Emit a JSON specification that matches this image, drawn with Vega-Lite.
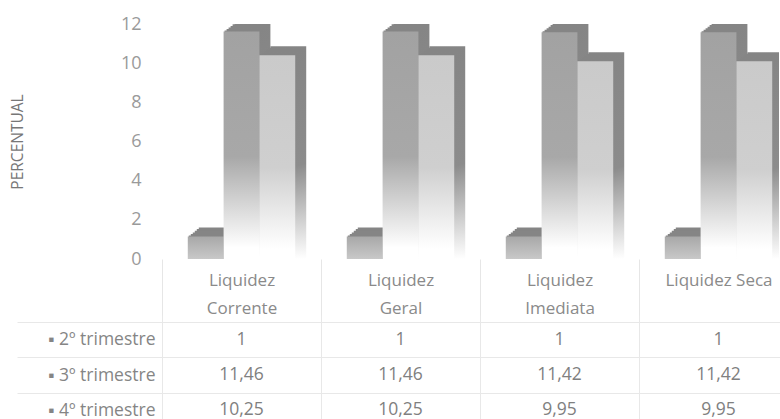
{
"$schema":"https://vega.github.io/schema/vega-lite/v6.json",
"padding":{"left":10,"top":15,"right":0,"bottom":0},
"background":"white",
"bounds":"flush",
"spacing":63,
"config":{"view":{"stroke":null},"font":"Open Sans"},
"datasets":{"d":[
{"cat":"Liquidez Corrente","s":"2º trimestre","v":1,"t":"1"},
{"cat":"Liquidez Corrente","s":"3º trimestre","v":11.46,"t":"11,46"},
{"cat":"Liquidez Corrente","s":"4º trimestre","v":10.25,"t":"10,25"},
{"cat":"Liquidez Geral","s":"2º trimestre","v":1,"t":"1"},
{"cat":"Liquidez Geral","s":"3º trimestre","v":11.46,"t":"11,46"},
{"cat":"Liquidez Geral","s":"4º trimestre","v":10.25,"t":"10,25"},
{"cat":"Liquidez Imediata","s":"2º trimestre","v":1,"t":"1"},
{"cat":"Liquidez Imediata","s":"3º trimestre","v":11.42,"t":"11,42"},
{"cat":"Liquidez Imediata","s":"4º trimestre","v":9.95,"t":"9,95"},
{"cat":"Liquidez Seca","s":"2º trimestre","v":1,"t":"1"},
{"cat":"Liquidez Seca","s":"3º trimestre","v":11.42,"t":"11,42"},
{"cat":"Liquidez Seca","s":"4º trimestre","v":9.95,"t":"9,95"}
]},
"vconcat":[
{"width":617,"height":235,"data":{"name":"d"},
"resolve":{"scale":{"xOffset":"independent"}},
"encoding":{
"x":{"field":"cat","type":"nominal","sort":null,"scale":{"domain":["Liquidez Corrente","Liquidez Geral","Liquidez Imediata","Liquidez Seca"],"range":[0,636],"paddingInner":0,"paddingOuter":0},
"axis":{"title":null,"labelAngle":0,"domain":false,"tickBand":"extent","tickSize":63,"tickColor":"#e6e6e6","labelPadding":-50,"labelLineHeight":28,"labelFontSize":17,"labelColor":"#8a8a8a","labelBaseline":"top","labelExpr":"datum.label=='Liquidez Seca'?datum.label:split(datum.label,' ')"}},
"y":{"field":"v","type":"quantitative","scale":{"domain":[0,12],"nice":false},
"axis":{"title":"PERCENTUAL","titleFont":"Open Sans","titleFontWeight":"normal","titleFontSize":15.5,"titleColor":"#777777","titleX":-137,"values":[0,2,4,6,8,10,12],"grid":false,"domain":false,"ticks":false,"labelPadding":21,"labelFontSize":18,"labelColor":"#9a9a9a"}},
"y2":{"datum":0}
},
"layer":[
{"transform":[{"filter":"datum.s=='2º trimestre'"}],"mark":{"type":"bar","clip":true,"yOffset":-12,"color":"#858585"},"encoding":{"xOffset":{"field":"s","type":"nominal","scale":{"domain":["2º trimestre","3º trimestre","4º trimestre"],"range":[11,170],"paddingOuter":0.72,"paddingInner":0}}}},
{"transform":[{"filter":"datum.s=='2º trimestre'"}],"mark":{"type":"bar","clip":true,"yOffset":-10.4,"color":"#858585"},"encoding":{"xOffset":{"field":"s","type":"nominal","scale":{"domain":["2º trimestre","3º trimestre","4º trimestre"],"range":[9,168],"paddingOuter":0.72,"paddingInner":0}}}},
{"transform":[{"filter":"datum.s=='2º trimestre'"}],"mark":{"type":"bar","clip":true,"yOffset":-8.7,"color":"#858585"},"encoding":{"xOffset":{"field":"s","type":"nominal","scale":{"domain":["2º trimestre","3º trimestre","4º trimestre"],"range":[7,166],"paddingOuter":0.72,"paddingInner":0}}}},
{"transform":[{"filter":"datum.s=='2º trimestre'"}],"mark":{"type":"bar","clip":true,"yOffset":-7,"color":"#858585"},"encoding":{"xOffset":{"field":"s","type":"nominal","scale":{"domain":["2º trimestre","3º trimestre","4º trimestre"],"range":[5,164],"paddingOuter":0.72,"paddingInner":0}}}},
{"transform":[{"filter":"datum.s=='2º trimestre'"}],"mark":{"type":"bar","clip":true,"yOffset":-5.5,"color":"#858585"},"encoding":{"xOffset":{"field":"s","type":"nominal","scale":{"domain":["2º trimestre","3º trimestre","4º trimestre"],"range":[3,162],"paddingOuter":0.72,"paddingInner":0}}}},
{"transform":[{"filter":"datum.s=='2º trimestre'"}],"mark":{"type":"bar","clip":true,"yOffset":-4,"color":"#858585"},"encoding":{"xOffset":{"field":"s","type":"nominal","scale":{"domain":["2º trimestre","3º trimestre","4º trimestre"],"range":[1,160],"paddingOuter":0.72,"paddingInner":0}}}},
{"transform":[{"filter":"datum.s!='2º trimestre'"}],"mark":{"type":"bar","clip":true,"yOffset":-12,"color":{"gradient":"linear","x1":0,"y1":0,"x2":0,"y2":1,"stops":[{"offset":0,"color":"#858585"},{"offset":0.55,"color":"#8c8c8c"},{"offset":1,"color":"#ffffff"}]}},"encoding":{"xOffset":{"field":"s","type":"nominal","scale":{"domain":["2º trimestre","3º trimestre","4º trimestre"],"range":[11,170],"paddingOuter":0.72,"paddingInner":0}}}},
{"transform":[{"filter":"datum.s!='2º trimestre'"}],"mark":{"type":"bar","clip":true,"yOffset":-10.4,"color":{"gradient":"linear","x1":0,"y1":0,"x2":0,"y2":1,"stops":[{"offset":0,"color":"#858585"},{"offset":0.55,"color":"#8c8c8c"},{"offset":1,"color":"#ffffff"}]}},"encoding":{"xOffset":{"field":"s","type":"nominal","scale":{"domain":["2º trimestre","3º trimestre","4º trimestre"],"range":[9,168],"paddingOuter":0.72,"paddingInner":0}}}},
{"transform":[{"filter":"datum.s!='2º trimestre'"}],"mark":{"type":"bar","clip":true,"yOffset":-8.7,"color":{"gradient":"linear","x1":0,"y1":0,"x2":0,"y2":1,"stops":[{"offset":0,"color":"#858585"},{"offset":0.55,"color":"#8c8c8c"},{"offset":1,"color":"#ffffff"}]}},"encoding":{"xOffset":{"field":"s","type":"nominal","scale":{"domain":["2º trimestre","3º trimestre","4º trimestre"],"range":[7,166],"paddingOuter":0.72,"paddingInner":0}}}},
{"transform":[{"filter":"datum.s!='2º trimestre'"}],"mark":{"type":"bar","clip":true,"yOffset":-7,"color":{"gradient":"linear","x1":0,"y1":0,"x2":0,"y2":1,"stops":[{"offset":0,"color":"#858585"},{"offset":0.55,"color":"#8c8c8c"},{"offset":1,"color":"#ffffff"}]}},"encoding":{"xOffset":{"field":"s","type":"nominal","scale":{"domain":["2º trimestre","3º trimestre","4º trimestre"],"range":[5,164],"paddingOuter":0.72,"paddingInner":0}}}},
{"transform":[{"filter":"datum.s!='2º trimestre'"}],"mark":{"type":"bar","clip":true,"yOffset":-5.5,"color":{"gradient":"linear","x1":0,"y1":0,"x2":0,"y2":1,"stops":[{"offset":0,"color":"#858585"},{"offset":0.55,"color":"#8c8c8c"},{"offset":1,"color":"#ffffff"}]}},"encoding":{"xOffset":{"field":"s","type":"nominal","scale":{"domain":["2º trimestre","3º trimestre","4º trimestre"],"range":[3,162],"paddingOuter":0.72,"paddingInner":0}}}},
{"transform":[{"filter":"datum.s!='2º trimestre'"}],"mark":{"type":"bar","clip":true,"yOffset":-4,"color":{"gradient":"linear","x1":0,"y1":0,"x2":0,"y2":1,"stops":[{"offset":0,"color":"#858585"},{"offset":0.55,"color":"#8c8c8c"},{"offset":1,"color":"#ffffff"}]}},"encoding":{"xOffset":{"field":"s","type":"nominal","scale":{"domain":["2º trimestre","3º trimestre","4º trimestre"],"range":[1,160],"paddingOuter":0.72,"paddingInner":0}}}},
{"transform":[{"filter":"datum.s=='2º trimestre'"}],"mark":{"type":"bar","clip":true,"yOffset":-3,"color":{"gradient":"linear","x1":0,"y1":0,"x2":0,"y2":1,"stops":[{"offset":0,"color":"#a8a8a8"},{"offset":1,"color":"#c8c8c8"}]}},"encoding":{"xOffset":{"field":"s","type":"nominal","scale":{"domain":["2º trimestre","3º trimestre","4º trimestre"],"range":[0,159],"paddingOuter":0.72,"paddingInner":0}}}},
{"transform":[{"filter":"datum.s=='3º trimestre'"}],"mark":{"type":"bar","clip":true,"yOffset":-3,"color":{"gradient":"linear","x1":0,"y1":0,"x2":0,"y2":1,"stops":[{"offset":0,"color":"#a2a2a2"},{"offset":0.55,"color":"#a8a8a8"},{"offset":0.95,"color":"#ffffff"}]}},"encoding":{"xOffset":{"field":"s","type":"nominal","scale":{"domain":["2º trimestre","3º trimestre","4º trimestre"],"range":[0,159],"paddingOuter":0.72,"paddingInner":0}}}},
{"transform":[{"filter":"datum.s=='4º trimestre'"}],"mark":{"type":"bar","clip":true,"yOffset":-3,"color":{"gradient":"linear","x1":0,"y1":0,"x2":0,"y2":1,"stops":[{"offset":0,"color":"#cacaca"},{"offset":0.55,"color":"#cfcfcf"},{"offset":0.95,"color":"#ffffff"}]}},"encoding":{"xOffset":{"field":"s","type":"nominal","scale":{"domain":["2º trimestre","3º trimestre","4º trimestre"],"range":[0,159],"paddingOuter":0.72,"paddingInner":0}}}}
]},
{"width":617,"height":99,"data":{"name":"d"},
"mark":{"type":"text","fontSize":17.5,"color":"#808080"},
"encoding":{
"x":{"field":"cat","type":"nominal","sort":null,"scale":{"range":[0,636],"paddingInner":0,"paddingOuter":0},
"axis":{"title":null,"labels":false,"domain":false,"ticks":false,"grid":true,"tickBand":"extent","gridColor":"#e8e8e8"}},
"y":{"field":"s","type":"nominal","sort":null,"scale":{"range":[0,106],"paddingInner":0,"paddingOuter":0},
"axis":{"title":null,"domain":false,"grid":true,"gridColor":"#e8e8e8","tickBand":"extent","tickSize":145,"tickColor":"#e8e8e8","labelPadding":-138,"labelFontSize":17.5,"labelColor":"#858585","labelExpr":"datum.label?'▪ '+datum.label:''"}},
"text":{"field":"t"}
}}
]
}
